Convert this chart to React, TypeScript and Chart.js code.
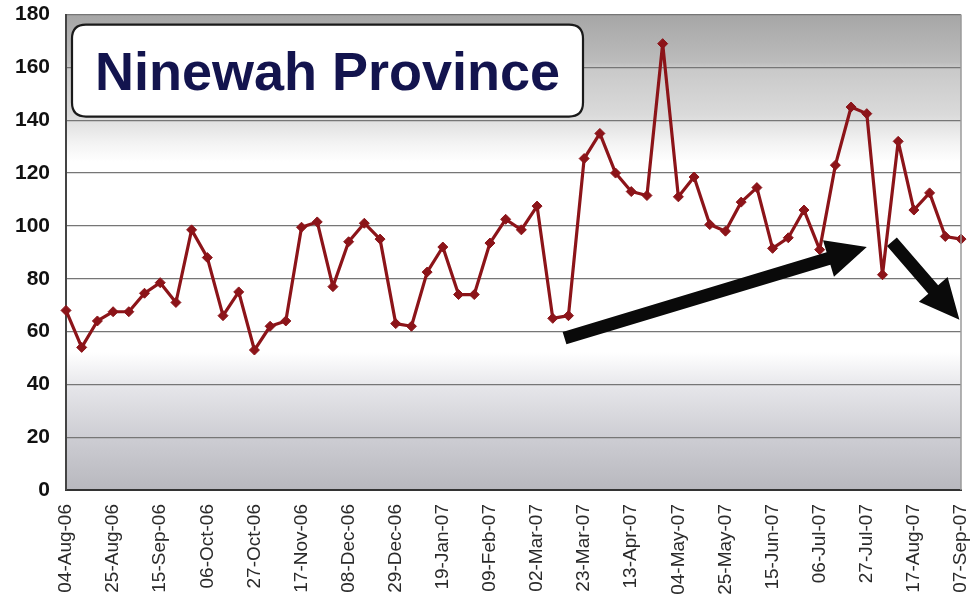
import React, { useEffect, useRef } from "react";
import { Chart, registerables } from "chart.js";

Chart.register(...registerables);

const weekLabels = [
  "04-Aug-06", "11-Aug-06", "18-Aug-06", "25-Aug-06", "01-Sep-06", "08-Sep-06",
  "15-Sep-06", "22-Sep-06", "29-Sep-06", "06-Oct-06", "13-Oct-06", "20-Oct-06",
  "27-Oct-06", "03-Nov-06", "10-Nov-06", "17-Nov-06", "24-Nov-06", "01-Dec-06",
  "08-Dec-06", "15-Dec-06", "22-Dec-06", "29-Dec-06", "05-Jan-07", "12-Jan-07",
  "19-Jan-07", "26-Jan-07", "02-Feb-07", "09-Feb-07", "16-Feb-07", "23-Feb-07",
  "02-Mar-07", "09-Mar-07", "16-Mar-07", "23-Mar-07", "30-Mar-07", "06-Apr-07",
  "13-Apr-07", "20-Apr-07", "27-Apr-07", "04-May-07", "11-May-07", "18-May-07",
  "25-May-07", "01-Jun-07", "08-Jun-07", "15-Jun-07", "22-Jun-07", "29-Jun-07",
  "06-Jul-07", "13-Jul-07", "20-Jul-07", "27-Jul-07", "03-Aug-07", "10-Aug-07",
  "17-Aug-07", "24-Aug-07", "31-Aug-07", "07-Sep-07",
];

const weeklyValues = [
  68, 54, 64, 67.5, 67.5, 74.5, 78.5, 71, 98.5, 88,
  66, 75, 53, 62, 64, 99.5, 101.5, 77, 94, 101,
  95, 63, 62, 82.5, 92, 74, 74, 93.5, 102.5, 98.5,
  107.5, 65, 66, 125.5, 135, 120, 113, 111.5, 169, 111,
  118.5, 100.5, 98, 109, 114.5, 91.5, 95.5, 106, 91, 123,
  145, 142.5, 81.5, 132, 106, 112.5, 96, 95,
];

const yMin = 0;
const yMax = 180;
const yStep = 20;
const labelEvery = 3;
const titleText = "Ninewah Province";

// trend arrows, in (week index, value) units
const arrowFrom = [
  [31.75, 57.5],
  [52.6, 94],
];
const arrowTo = [
  [51.0, 92],
  [56.9, 64.5],
];

const FONT = '"Liberation Sans", Arial, Helvetica, sans-serif';

function drawArrow(ctx: CanvasRenderingContext2D, x1: number, y1: number, x2: number, y2: number, shaftW: number, headL: number, headW: number) {
  const dx = x2 - x1;
  const dy = y2 - y1;
  const len = Math.sqrt(dx * dx + dy * dy);
  const ux = dx / len;
  const uy = dy / len;
  const nx = -uy;
  const ny = ux;
  const bx = x2 - ux * headL;
  const by = y2 - uy * headL;
  ctx.beginPath();
  ctx.moveTo(x1 + nx * shaftW / 2, y1 + ny * shaftW / 2);
  ctx.lineTo(bx + nx * shaftW / 2, by + ny * shaftW / 2);
  ctx.lineTo(bx + nx * headW / 2, by + ny * headW / 2);
  ctx.lineTo(x2, y2);
  ctx.lineTo(bx - nx * headW / 2, by - ny * headW / 2);
  ctx.lineTo(bx - nx * shaftW / 2, by - ny * shaftW / 2);
  ctx.lineTo(x1 - nx * shaftW / 2, y1 - ny * shaftW / 2);
  ctx.closePath();
  ctx.fill();
}

function roundRect(ctx: CanvasRenderingContext2D, x: number, y: number, w: number, h: number, r: number) {
  ctx.beginPath();
  ctx.moveTo(x + r, y);
  ctx.lineTo(x + w - r, y);
  ctx.quadraticCurveTo(x + w, y, x + w, y + r);
  ctx.lineTo(x + w, y + h - r);
  ctx.quadraticCurveTo(x + w, y + h, x + w - r, y + h);
  ctx.lineTo(x + r, y + h);
  ctx.quadraticCurveTo(x, y + h, x, y + h - r);
  ctx.lineTo(x, y + r);
  ctx.quadraticCurveTo(x, y, x + r, y);
  ctx.closePath();
}

export default function App() {
  const ref = useRef<HTMLCanvasElement>(null);

  useEffect(() => {
    document.body.style.margin = "0";
    const canvas = ref.current;
    if (!canvas) return;

    const bgPlugin = {
      id: "bgPlugin",
      beforeDraw(chart: any) {
        const { ctx, chartArea: a } = chart;
        ctx.save();
        ctx.fillStyle = "#ffffff";
        ctx.fillRect(0, 0, chart.width, chart.height);
        const g = ctx.createLinearGradient(0, a.top, 0, a.bottom);
        g.addColorStop(0, "#a6a6a6");
        g.addColorStop(0.1, "#bcbcbc");
        g.addColorStop(0.11, "#c8c8c8");
        g.addColorStop(0.21, "#dadada");
        g.addColorStop(0.27, "#f3f3f3");
        g.addColorStop(0.31, "#ffffff");
        g.addColorStop(0.71, "#ffffff");
        g.addColorStop(0.79, "#e4e4e8");
        g.addColorStop(0.89, "#cdcdd3");
        g.addColorStop(1, "#b8b8be");
        ctx.fillStyle = g;
        ctx.fillRect(a.left, a.top, a.right - a.left, a.bottom - a.top);
        ctx.restore();
      },
    };

    const decoPlugin = {
      id: "decoPlugin",
      afterDatasetsDraw(chart: any) {
        const { ctx, scales } = chart;
        ctx.save();
        ctx.fillStyle = "#0a0a0a";
        for (let i = 0; i < arrowFrom.length; i++) {
          const x1 = scales.x.getPixelForValue(arrowFrom[i][0]);
          const y1 = scales.y.getPixelForValue(arrowFrom[i][1]);
          const x2 = scales.x.getPixelForValue(arrowTo[i][0]);
          const y2 = scales.y.getPixelForValue(arrowTo[i][1]);
          drawArrow(ctx, x1, y1, x2, y2, 13, 40, 38);
        }
        ctx.restore();
      },
      afterDraw(chart: any) {
        const { ctx, chartArea: a } = chart;
        ctx.save();
        // right border
        ctx.strokeStyle = "#9a9a9a";
        ctx.lineWidth = 1.5;
        ctx.beginPath();
        ctx.moveTo(a.right, a.top);
        ctx.lineTo(a.right, a.bottom);
        ctx.stroke();
        // title box
        const bx = a.left + 6;
        const by = a.top + 10;
        const bw = 511;
        const bh = 92;
        roundRect(ctx, bx, by, bw, bh, 14);
        ctx.fillStyle = "#ffffff";
        ctx.fill();
        ctx.strokeStyle = "#1a1a1a";
        ctx.lineWidth = 2.2;
        ctx.stroke();
        ctx.fillStyle = "#13144e";
        ctx.font = `bold 54px ${FONT}`;
        ctx.textAlign = "center";
        ctx.textBaseline = "alphabetic";
        ctx.fillText(titleText, bx + bw / 2, by + 65);
        ctx.restore();
      },
    };

    const chart = new Chart(canvas, {
      type: "line",
      data: {
        labels: weekLabels,
        datasets: [
          {
            data: weeklyValues,
            borderColor: "#8c1419",
            backgroundColor: "#8c1419",
            borderWidth: 3.2,
            borderJoinStyle: "round",
            pointStyle: "rectRot",
            pointRadius: 5,
            pointBorderWidth: 1,
            pointBackgroundColor: "#8c1419",
            pointBorderColor: "#8c1419",
            tension: 0,
            fill: false,
          },
        ],
      },
      options: {
        responsive: false,
        animation: false,
        devicePixelRatio: 1,
        layout: { padding: { top: 0, right: 0, left: 0, bottom: 0 } },
        plugins: {
          legend: { display: false },
          tooltip: { enabled: false },
          title: { display: false },
        },
        scales: {
          x: {
            type: "category",
            offset: false,
            grid: { display: false, drawTicks: true, tickLength: 12 },
            border: { display: true, color: "#333333", width: 2 },
            ticks: {
              autoSkip: false,
              maxRotation: 90,
              minRotation: 90,
              padding: 2,
              color: "#2a2a2a",
              font: { family: FONT, size: 19 },
              callback: (_v: any, i: number) => (i % labelEvery === 0 ? weekLabels[i] : ""),
            },
            afterFit: (s: any) => {
              s.height = 110;
              s.paddingRight = 17;
            },
          },
          y: {
            min: yMin,
            max: yMax,
            grid: {
              color: "#767676",
              lineWidth: 1.2,
              drawTicks: true,
              tickLength: 14,
              tickColor: "rgba(0,0,0,0)",
            },
            border: { display: true, color: "#444444", width: 2 },
            ticks: {
              stepSize: yStep,
              padding: 2,
              color: "#111111",
              font: { family: FONT, size: 21, weight: "bold" },
            },
            afterFit: (s: any) => {
              s.width = 66;
            },
          },
        },
      },
      plugins: [bgPlugin, decoPlugin],
    });

    return () => chart.destroy();
  }, []);

  return (
    <div style={{ width: 978, height: 600, position: "relative" }}>
      <canvas ref={ref} width={978} height={600} style={{ display: "block" }} />
    </div>
  );
}
